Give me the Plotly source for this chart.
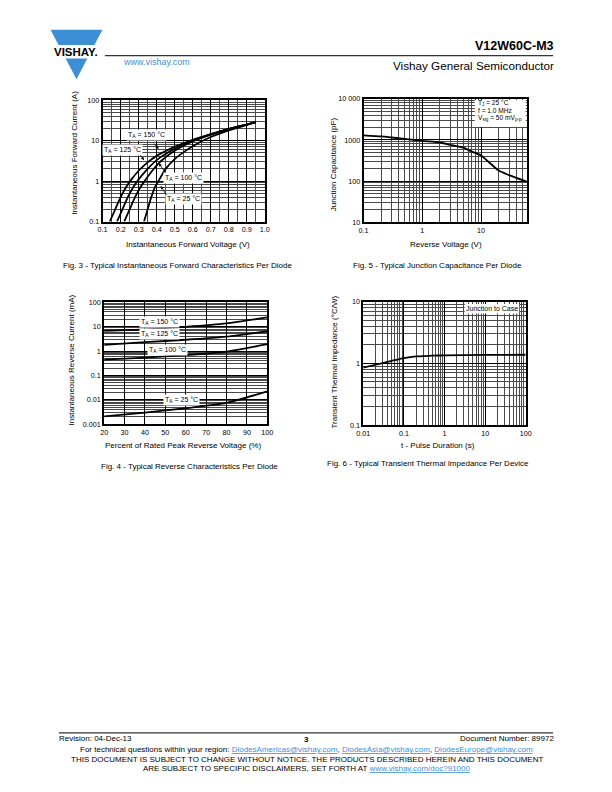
import plotly.graph_objects as go

W, H = 612, 792
FONT = "Liberation Sans, Arial, Helvetica, sans-serif"
BLUE = "#3d8fd5"

# ---------------- Data ----------------
# Fig. 3 - forward characteristics (V, A)
vf_150 = [0.14, 0.17, 0.20, 0.23, 0.26, 0.30, 0.35, 0.40, 0.50, 0.60, 0.70, 0.80, 0.90, 0.95]
if_150 = [0.1, 0.2, 0.4, 0.7, 1.1, 1.8, 2.9, 4.2, 7.0, 10.5, 14.5, 19.5, 25.0, 28.5]
vf_125 = [0.18, 0.21, 0.24, 0.27, 0.30, 0.35, 0.40, 0.50, 0.60, 0.70, 0.80, 0.90, 0.95]
if_125 = [0.1, 0.2, 0.4, 0.7, 1.1, 2.0, 3.3, 6.3, 10.0, 14.2, 19.3, 25.0, 28.5]
vf_100 = [0.22, 0.25, 0.28, 0.31, 0.34, 0.38, 0.42, 0.50, 0.60, 0.70, 0.80, 0.90, 0.95]
if_100 = [0.1, 0.2, 0.4, 0.7, 1.1, 1.9, 3.0, 5.6, 9.5, 14.0, 19.2, 25.0, 28.5]
vf_25 = [0.33, 0.35, 0.37, 0.39, 0.41, 0.45, 0.50, 0.55, 0.60, 0.70, 0.80, 0.90, 0.95]
if_25 = [0.1, 0.2, 0.4, 0.7, 1.0, 2.0, 3.5, 5.2, 7.3, 12.3, 18.0, 24.5, 28.5]

# Fig. 5 - junction capacitance (V, pF)
vr_cap = [0.1, 0.2, 0.3, 0.5, 1.0, 2.0, 3.0, 5.0, 7.0, 10.0, 20.0, 30.0, 60.0]
cj_cap = [1300, 1220, 1150, 1060, 950, 870, 760, 650, 520, 420, 180, 140, 97]

# Fig. 4 - reverse characteristics (% VRRM, mA)
pct = [20, 40, 60, 80, 100]
ir_150 = [6.8, 7.8, 9.8, 13.5, 24.0]
ir_125 = [1.8, 2.3, 2.9, 3.9, 6.5]
ir_100 = [0.44, 0.54, 0.68, 0.95, 1.9]
ir_25 = [0.0021, 0.003, 0.0045, 0.0075, 0.022]

# Fig. 6 - transient thermal impedance (s, °C/W)
t_pulse = [0.01, 0.02, 0.05, 0.1, 0.2, 0.5, 1, 10, 100]
zth = [0.85, 0.95, 1.1, 1.22, 1.3, 1.33, 1.35, 1.37, 1.38]

# tick labels
f3_xticks = [0.1, 0.2, 0.3, 0.4, 0.5, 0.6, 0.7, 0.8, 0.9, 1.0]
f3_xtext = ["0.1", "0.2", "0.3", "0.4", "0.5", "0.6", "0.7", "0.8", "0.9", "1.0"]
f3_yticks = [0.1, 1, 10, 100]
f3_ytext = ["0.1", "1", "10", "100"]
f5_xticks = [0.1, 1, 10]
f5_xtext = ["0.1", "1", "10"]
f5_yticks = [10, 100, 1000, 10000]
f5_ytext = ["10", "100", "1000", "10 000"]
f4_xticks = [20, 30, 40, 50, 60, 70, 80, 90, 100]
f4_xtext = ["20", "30", "40", "50", "60", "70", "80", "90", "100"]
f4_yticks = [0.001, 0.01, 0.1, 1, 10, 100]
f4_ytext = ["0.001", "0.01", "0.1", "1", "10", "100"]
f6_xticks = [0.01, 0.1, 1, 10, 100]
f6_xtext = ["0.01", "0.1", "1", "10", "100"]
f6_yticks = [0.1, 1, 10]
f6_ytext = ["0.1", "1", "10"]


def px(x):
    return x / W


def py(y):
    return 1 - y / H


def log_minors(lo_exp, hi_exp, upper=None):
    vals = []
    for e in range(lo_exp, hi_exp):
        for d in range(2, 10):
            v = d * 10 ** e
            if upper is None or v < upper:
                vals.append(v)
    return vals


def make_axis(x0, x1, anchor, typ, rng, tv, tt, minor_vals, horizontal=True):
    if horizontal:
        dom = [px(x0), px(x1)]
    else:
        dom = [py(x1), py(x0)]
    ax = dict(domain=dom, anchor=anchor, type=typ, range=rng,
              tickmode="array", tickvals=tv, ticktext=tt,
              showgrid=True, gridcolor="black", gridwidth=1,
              showline=True, mirror=True, linecolor="black", linewidth=1.8,
              ticks="", zeroline=False, fixedrange=True,
              tickfont=dict(family=FONT, size=7.2, color="black"))
    if minor_vals:
        ax["minor"] = dict(tickmode="array", tickvals=minor_vals, showgrid=True,
                           gridcolor="#4a4a4a", gridwidth=0.8, ticks="")
    return ax


fig = go.Figure()
line = dict(color="black", width=1.8, shape="spline", smoothing=0.6)

for vx, iy in [(vf_150, if_150), (vf_125, if_125), (vf_100, if_100), (vf_25, if_25)]:
    fig.add_trace(go.Scatter(x=vx, y=iy, mode="lines", line=line, xaxis="x", yaxis="y",
                             showlegend=False, hoverinfo="skip"))
fig.add_trace(go.Scatter(x=vr_cap, y=cj_cap, mode="lines", line=line, xaxis="x2", yaxis="y2",
                         showlegend=False, hoverinfo="skip"))
for iy in [ir_150, ir_125, ir_100, ir_25]:
    fig.add_trace(go.Scatter(x=pct, y=iy, mode="lines", line=line, xaxis="x3", yaxis="y3",
                             showlegend=False, hoverinfo="skip"))
fig.add_trace(go.Scatter(x=t_pulse, y=zth, mode="lines", line=line, xaxis="x4", yaxis="y4",
                         showlegend=False, hoverinfo="skip"))

f3_xminor = [round(0.15 + 0.1 * i, 2) for i in range(9)]
layout = dict(
    width=W, height=H, autosize=False,
    margin=dict(l=0, r=0, t=0, b=0),
    paper_bgcolor="white", plot_bgcolor="white",
    font=dict(family=FONT, color="black"),
    xaxis=make_axis(97.7, 263.3, "y", "linear", [0.1, 1.0], f3_xticks, f3_xtext, f3_xminor),
    yaxis=make_axis(97.3, 220, "x", "log", [-1, 2], f3_yticks, f3_ytext, log_minors(-1, 2), False),
    xaxis2=make_axis(364.3, 531, "y2", "log", [-1, 1.778], f5_xticks, f5_xtext, log_minors(-1, 2, 60)),
    yaxis2=make_axis(96, 220.7, "x2", "log", [1, 4], f5_yticks, f5_ytext, log_minors(1, 4), False),
    xaxis3=make_axis(99.3, 266, "y3", "linear", [20, 100], f4_xticks, f4_xtext, None),
    yaxis3=make_axis(301.7, 425, "x3", "log", [-3, 2], f4_yticks, f4_ytext, log_minors(-3, 2), False),
    xaxis4=make_axis(364, 530, "y4", "log", [-2, 2], f6_xticks, f6_xtext, log_minors(-2, 2)),
    yaxis4=make_axis(301, 426, "x4", "log", [-1, 1], f6_yticks, f6_ytext, log_minors(-1, 1), False),
)
fig.update_layout(**layout)

ann = []


def text(x, y, s, size=8, xanchor="center", yanchor="middle", color="black", angle=0, bold=False,
         bg=None, align="center"):
    d = dict(x=px(x), y=py(y), xref="paper", yref="paper", text=("<b>%s</b>" % s) if bold else s,
             showarrow=False, xanchor=xanchor, yanchor=yanchor, textangle=angle, align=align,
             font=dict(family=FONT, size=size, color=color))
    if bg:
        d["bgcolor"] = bg
        d["borderpad"] = 1
    ann.append(d)


# header
text(561, 42, "V12W60C-M3", size=12.5, xanchor="right", bold=True)
text(561, 62.5, "Vishay General Semiconductor", size=11.7, xanchor="right")
text(116, 59, "www.vishay.com", size=9, xanchor="left", color=BLUE)
text(70.5, 48.5, "VISHAY.", size=11.5, bold=True)

# axis titles
text(184.7, 243.3, "Instantaneous Forward Voltage (V)")
text(69, 151, "Instantaneous Forward Current (A)", angle=-90)
text(448.3, 243, "Reverse Voltage (V)")
text(333.5, 161.7, "Junction Capacitance (pF)", angle=-90)
text(180, 446.5, "Percent of Rated Peak Reverse Voltage (%)")
text(65.5, 360.5, "Instantaneous Reverse Current (mA)", angle=-90)
text(440, 447, "t - Pulse Duration (s)")
text(335, 361.7, "Transient Thermal Impedance (°C/W)", angle=-90)

# captions
text(174.5, 264.3, "Fig. 3 - Typical Instantaneous Forward Characteristics Per Diode")
text(439.7, 264.3, "Fig. 5 - Typical Junction Capacitance Per Diode")
text(186, 468, "Fig. 4 - Typical Reverse Characteristics Per Diode")
text(430, 465, "Fig. 6 - Typical Transient Thermal Impedance Per Device")

# in-plot labels fig 3
text(142.5, 132.7, "T<sub>A</sub> = 150 °C", size=7, bg="white")
text(118, 147.7, "T<sub>A</sub> = 125 °C", size=7, bg="white")
text(180.3, 175.7, "T<sub>A</sub> = 100 °C", size=7, bg="white")
text(180, 197.3, "T<sub>A</sub> = 25 °C", size=7, bg="white")
# fig 4 labels
text(155.5, 321.3, "T<sub>A</sub> = 150 °C", size=7, bg="white")
text(155.5, 333.7, "T<sub>A</sub> = 125 °C", size=7, bg="white")
text(163.5, 350.3, "T<sub>A</sub> = 100 °C", size=7, bg="white")
text(178, 400.3, "T<sub>A</sub> = 25 °C", size=7, bg="white")
# fig 5 box lines
text(479.5, 100.5, "T<sub>J</sub> = 25 °C", size=6.6, xanchor="left")
text(479.5, 108, "f = 1.0 MHz", size=6.6, xanchor="left")
text(479.5, 115.5, "V<sub>sig</sub> = 50 mV<sub>p-p</sub>", size=6.6, xanchor="left")
# fig 6 box
text(524, 308.3, "Junction to Case", size=7, xanchor="right")

# arrows fig 3 (head pixel -> tail pixel)
for hx, hy, tx, ty in [(155, 146.7, 149, 139.5), (140, 158, 135, 151),
                       (155, 161, 163, 172.5), (157, 184, 164, 195)]:
    ann.append(dict(x=px(hx), y=py(hy), xref="paper", yref="paper", ax=tx - hx, ay=ty - hy,
                    text=" ", showarrow=True, arrowhead=2, font=dict(size=1),
                    arrowsize=0.8, arrowwidth=0.8, arrowcolor="black"))

# footer
text(51, 742.5, "Revision: 04-Dec-13", xanchor="left")
text(306, 743.5, "3", bold=True)
text(561, 742.5, "Document Number: 89972", xanchor="right")
text(306, 754, "For technical questions within your region: "
     "<span style='color:%s'><u>DiodesAmericas@vishay.com</u></span>, "
     "<span style='color:%s'><u>DiodesAsia@vishay.com</u></span>, "
     "<span style='color:%s'><u>DiodesEurope@vishay.com</u></span>" % (BLUE, BLUE, BLUE))
text(306, 764.5, "THIS DOCUMENT IS SUBJECT TO CHANGE WITHOUT NOTICE. THE PRODUCTS DESCRIBED HEREIN AND THIS DOCUMENT")
text(306, 773.5, "ARE SUBJECT TO SPECIFIC DISCLAIMERS, SET FORTH AT "
     "<span style='color:%s'><u>www.vishay.com/doc?91000</u></span>" % BLUE)

fig.update_layout(annotations=ann)

shapes = [
    # logo triangle
    dict(type="path", xref="paper", yref="paper",
         path="M %f %f L %f %f L %f %f Z" % (px(44.5), py(26), px(97.5), py(26), px(71), py(76)),
         fillcolor=BLUE, line=dict(width=0)),
    dict(type="rect", xref="paper", yref="paper", x0=px(38), x1=px(102), y0=py(55), y1=py(41.5),
         fillcolor="white", line=dict(width=0)),
    # fig 5 / fig 6 label boxes
    dict(type="rect", xref="paper", yref="paper", x0=px(478), x1=px(530), y0=py(124.5), y1=py(97),
         fillcolor="white", line=dict(width=0)),
    dict(type="rect", xref="paper", yref="paper", x0=px(467.7), x1=px(523.3), y0=py(313), y1=py(303.5),
         fillcolor="white", line=dict(width=0)),
    # header rule
    dict(type="line", xref="paper", yref="paper", x0=px(100), x1=px(558), y0=py(52.3), y1=py(52.3),
         line=dict(color="black", width=1)),
    # footer rule
    dict(type="line", xref="paper", yref="paper", x0=px(53), x1=px(558), y0=py(737.3), y1=py(737.3),
         line=dict(color="black", width=1)),
]
fig.update_layout(shapes=shapes)

fig.write_html("out.html", config={"displayModeBar": False},
               post_script="document.body.style.margin='0';document.body.style.overflow='hidden';")
